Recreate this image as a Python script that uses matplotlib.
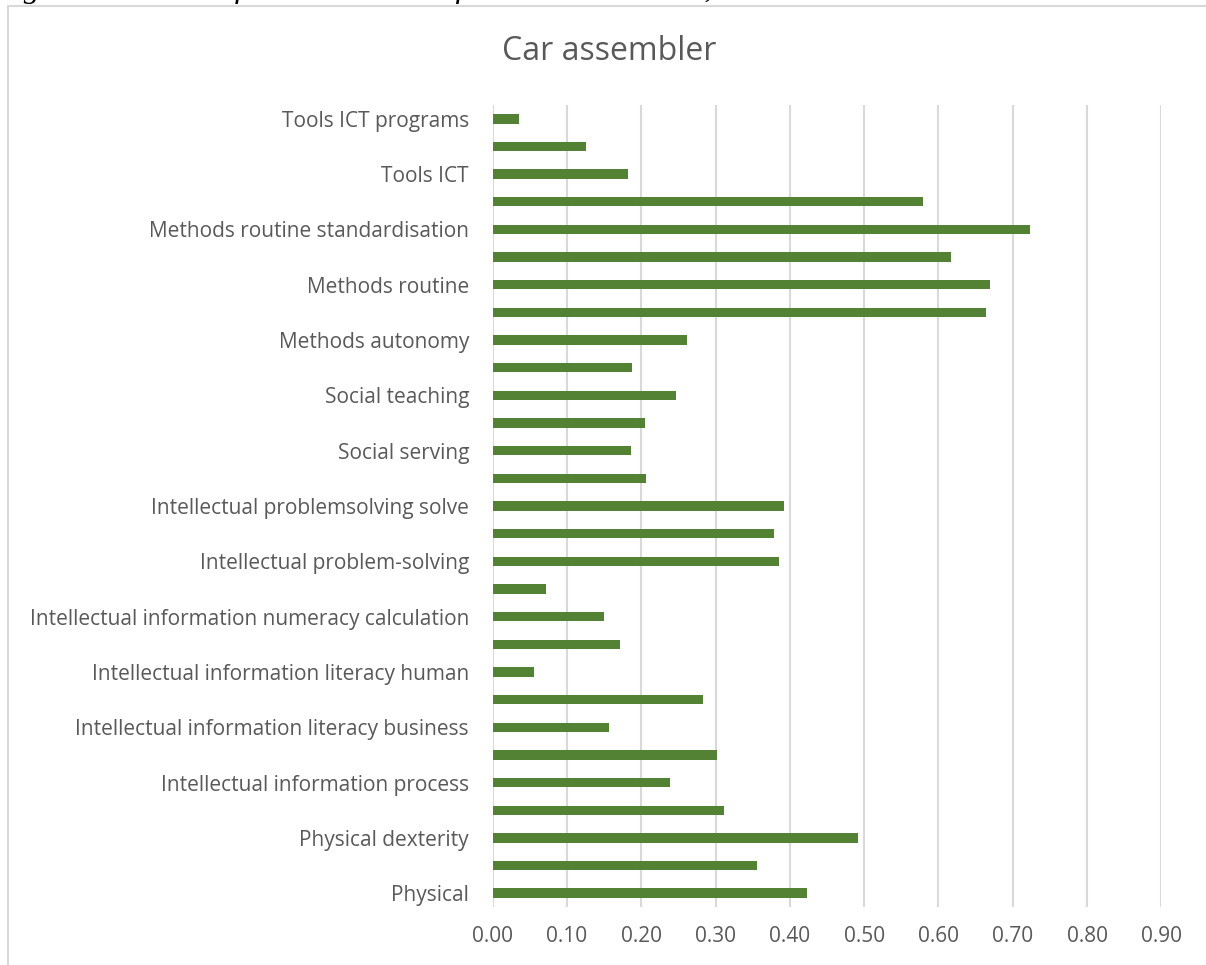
import matplotlib
matplotlib.use('Agg')
import matplotlib.pyplot as plt
from matplotlib.patches import Rectangle

plt.rcParams['font.family'] = ['Open Sans', 'DejaVu Sans']

# bottom -> top, Excel only prints every other label
labels = [
    'Physical', '', 'Physical dexterity', '',
    'Intellectual information process', '',
    'Intellectual information literacy business', '',
    'Intellectual information literacy human', '',
    'Intellectual information numeracy calculation', '',
    'Intellectual problem-solving', '',
    'Intellectual problemsolving solve', '',
    'Social serving', '', 'Social teaching', '',
    'Methods autonomy', '', 'Methods routine', '',
    'Methods routine standardisation', '', 'Tools ICT', '',
    'Tools ICT programs',
]
scores = [
    0.423, 0.356, 0.492, 0.312, 0.238, 0.302, 0.156, 0.283, 0.056, 0.171,
    0.150, 0.072, 0.385, 0.379, 0.392, 0.206, 0.186, 0.205, 0.247, 0.188,
    0.262, 0.664, 0.670, 0.617, 0.723, 0.579, 0.182, 0.125, 0.035,
]
xticks = [0.0, 0.1, 0.2, 0.3, 0.4, 0.5, 0.6, 0.7, 0.8, 0.9]
caption = 'Figure 1: Scores of car assemblers for various manual, intellectual and social tasks'

W, H = 1206, 965
fig = plt.figure(figsize=(W / 100, H / 100), dpi=100)

# chart area border (cut off on right/bottom like the screenshot)
fig.patches.append(Rectangle((7.5 / W, -0.01), 1.1, 1 - 5.5 / H + 0.01,
                             transform=fig.transFigure, fill=False,
                             edgecolor='#d9d9d9', lw=1.5))

# caption of the document, mostly cut off at the top
cap = fig.text(-5 / W, 1 + 3 / H, caption,
               family='Liberation Serif', style='italic',
               fontsize=22, color='black', ha='left', va='baseline')
r = fig.canvas.get_renderer()
cap.set_fontsize(22 * 1085 / cap.get_window_extent(r).width)

ax = fig.add_axes([492.7 / W, (H - 907) / H, 668.6 / W, 802 / H])
y = range(len(scores))
ax.barh(y, scores, height=0.34, color='#548235', zorder=3)
ax.set_ylim(-0.5, len(scores) - 0.5)
ax.set_xlim(0, 0.9)
ax.set_xticks(xticks)
ax.set_xticklabels([f'{v:.2f}' for v in xticks])
ax.set_yticks(list(y))
ax.set_yticklabels(labels)
ax.tick_params(axis='x', length=0, pad=14, labelsize=15, labelcolor='#595959')
ax.tick_params(axis='y', length=0, pad=17, labelsize=15, labelcolor='#595959')
ax.grid(axis='x', color='#d9d9d9', lw=1.5, zorder=0)
for s in ax.spines.values():
    s.set_visible(False)

fig.text(609 / W, 1 - 52 / H, 'Car assembler', ha='center', va='center',
         fontsize=23, color='#595959')

fig.savefig('out.png', dpi=100)
